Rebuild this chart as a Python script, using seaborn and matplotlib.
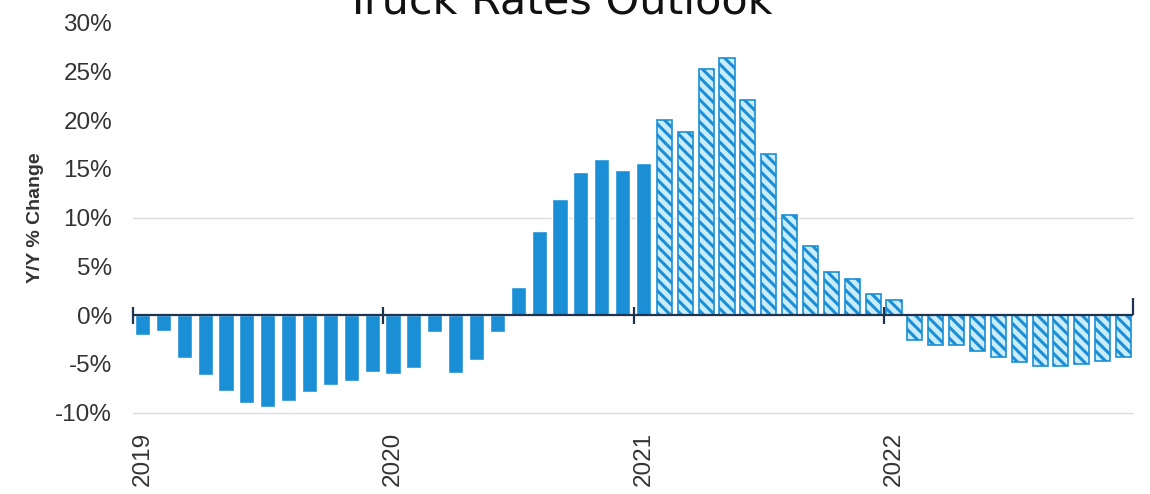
import matplotlib
matplotlib.use("Agg")
import matplotlib.pyplot as plt
import seaborn as sns
import pandas as pd
from matplotlib.ticker import FuncFormatter

# Monthly year-over-year change in truck rates, Jan 2019 - Dec 2022
months = pd.period_range("2019-01", "2022-12", freq="M").strftime("%Y-%m").tolist()
values_2019 = [-2.1, -1.6, -4.4, -6.2, -7.8, -9.0, -9.4, -8.8, -7.9, -7.2, -6.8, -5.8]
values_2020 = [-6.0, -5.4, -1.7, -5.9, -4.6, -1.7, 2.9, 8.6, 11.9, 14.7, 16.0, 14.9]
values_2021 = [15.6, 20.0, 18.8, 25.2, 26.4, 22.1, 16.5, 10.3, 7.1, 4.4, 3.7, 2.2]
values_2022 = [1.5, -2.6, -3.1, -3.1, -3.7, -4.3, -4.8, -5.2, -5.2, -5.0, -4.7, -4.3]
n_actual = 25  # through Jan 2021; the rest is forecast
year_labels = ["2019", "2020", "2021", "2022"]
y_ticks = [-10, -5, 0, 5, 10, 15, 20, 25, 30]

values = values_2019 + values_2020 + values_2021 + values_2022
kinds = ["Actual"] * n_actual + ["Forecast"] * (len(values) - n_actual)
df = pd.DataFrame({"month": months, "change": values, "kind": kinds})

BLUE = "#1b8fd6"
LIGHT = "#c9ecfb"
NAVY = "#1d3450"
TEXT = "#333333"

sns.set_style("white")
plt.rcParams["font.family"] = ["Liberation Sans", "DejaVu Sans"]
plt.rcParams["hatch.linewidth"] = 2.2

fig = plt.figure(figsize=(11.5, 4.94), dpi=100)
ax = fig.add_axes([133 / 1150, 1 - 412.5 / 494, 1000 / 1150, 390 / 494])

sns.barplot(data=df, x="month", y="change", hue="kind",
            hue_order=["Actual", "Forecast"],
            palette={"Actual": BLUE, "Forecast": LIGHT},
            dodge=False, width=0.72, saturation=1, legend=False, ax=ax)

# forecast bars: pale fill with diagonal blue stripes
for bar in ax.containers[1]:
    bar.set_edgecolor(BLUE)
    bar.set_hatch("\\\\\\")
    bar.set_linewidth(1.2)

ax.set_ylim(-10, 30)
ax.set_xlim(-0.455, len(values) - 0.55)
for s in ax.spines.values():
    s.set_visible(False)

# light reference lines and the zero axis with year dividers
for g in (-10, 10):
    ax.axhline(g, color="#dcdcdc", lw=1.0, zorder=0, clip_on=False)
ax.axhline(0, color=NAVY, lw=1.6, zorder=4)
dividers = [12 * k - 0.455 for k in range(4)]
ax.vlines(dividers, -0.95, 0.8, color=NAVY, lw=1.6, zorder=4, clip_on=False)
ax.vlines([len(values) - 0.55], 0, 1.7, color=NAVY, lw=1.6, zorder=4, clip_on=False)

ax.set_yticks(y_ticks)
ax.yaxis.set_major_formatter(FuncFormatter(lambda v, p: f"{v:.0f}%"))
ax.tick_params(axis="y", length=0, pad=15, labelsize=17.5, labelcolor=TEXT)
ax.set_xticks([0, 12, 24, 36], labels=year_labels, rotation=90, va="top")
ax.tick_params(axis="x", length=0, pad=14, labelsize=17.5, labelcolor=TEXT)
ax.set_xlabel("")
ax.set_ylabel("")

fig.text(35 / 1150, 1 - 217.5 / 494, "Y/Y % Change", rotation=90, ha="center",
         va="center", fontsize=14, fontweight="bold", color=TEXT)
fig.text(558 / 1150, 1 - 14 / 494, "Truck Rates Outlook", ha="center",
         va="baseline", fontsize=31, color="#111111",
         family=["DejaVu Sans"])

fig.savefig("out.png", dpi=100)
